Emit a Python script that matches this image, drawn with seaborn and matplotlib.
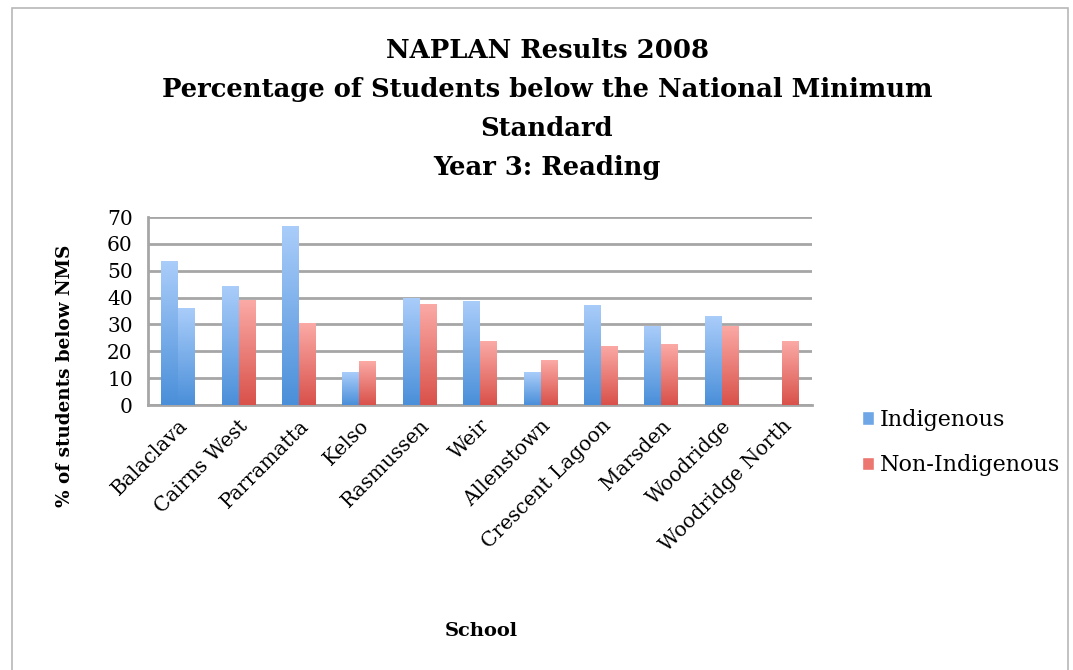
import matplotlib
matplotlib.use("Agg")
import matplotlib.pyplot as plt
import seaborn as sns
import pandas as pd
import numpy as np
from matplotlib.patches import Patch, Rectangle
from matplotlib.colors import LinearSegmentedColormap

schools = ["Balaclava", "Cairns West", "Parramatta", "Kelso", "Rasmussen", "Weir",
           "Allenstown", "Crescent Lagoon", "Marsden", "Woodridge", "Woodridge North"]
indigenous = [53.5, 44.3, 66.5, 12.2, 39.7, 38.8, 12.2, 37.3, 29.6, 33.0, np.nan]
non_indigenous = [36.1, 39.0, 30.4, 16.3, 37.5, 23.7, 16.6, 22.0, 22.6, 29.5, 23.7]
groups = ["Indigenous", "Non-Indigenous"]

df = pd.DataFrame({
    "school": schools * 2,
    "group": [groups[0]] * len(schools) + [groups[1]] * len(schools),
    "value": indigenous + non_indigenous,
})

sns.set_style("white")
plt.rcParams["font.family"] = ["DejaVu Serif"]
plt.rcParams["text.color"] = "black"
plt.rcParams["xtick.labelcolor"] = "black"
plt.rcParams["ytick.labelcolor"] = "black"

fig = plt.figure(figsize=(10.73, 6.70), dpi=100)
ax = fig.add_axes([0.138, 0.3955, 0.619, 0.2806])

blue_cmap = LinearSegmentedColormap.from_list("b", ["#4a8fd9", "#aacdfa"])
red_cmap = LinearSegmentedColormap.from_list("r", ["#d9514a", "#fbaaa6"])

sns.barplot(data=df, x="school", y="value", hue="group", order=schools,
            hue_order=groups, palette=["#7fb0ea", "#ef7f78"], width=0.56,
            gap=0, legend=False, ax=ax)

# gradient fill for each bar
grad = np.linspace(0, 1, 256).reshape(-1, 1)
for i, patch in enumerate(ax.patches):
    h = patch.get_height()
    if not np.isfinite(h) or h == 0:
        continue
    cmap = blue_cmap if i < len(schools) else red_cmap
    x0 = patch.get_x()
    w = patch.get_width()
    im = ax.imshow(grad, cmap=cmap, origin="lower", aspect="auto",
                   extent=[x0, x0 + w, 0, h], zorder=3)
    im.set_clip_path(patch)
    patch.set_facecolor("none")
    patch.set_edgecolor("none")

ax.set_xlim(-0.5, len(schools) - 0.5)
ax.set_ylim(0, 70)
ax.set_yticks(range(0, 71, 10))
ax.yaxis.grid(True, color="#a6a6a6", linewidth=2)
ax.set_axisbelow(True)
for s in ["top", "right"]:
    ax.spines[s].set_visible(False)
ax.spines["left"].set_color("#a6a6a6")
ax.spines["bottom"].set_color("#a6a6a6")
ax.spines["left"].set_linewidth(2)
ax.spines["bottom"].set_linewidth(2)

ax.set_xticks(np.arange(-0.5, len(schools), 1.0), minor=True)
ax.tick_params(axis="x", which="minor", length=7, width=1.5, color="#a6a6a6")
ax.tick_params(axis="x", which="major", length=0, pad=8)
ax.tick_params(axis="y", length=7, width=1.5, color="#a6a6a6", labelsize=14.5, pad=4)
ax.set_xticks(range(len(schools)))
ax.set_xticklabels(schools, rotation=45, ha="right", rotation_mode="anchor", fontsize=14.5)
ax.set_xlabel("")
ax.set_ylabel("")

fig.text(65 / 1073, 1 - 376 / 670, "% of students below NMS", rotation=90,
         ha="center", va="center", fontsize=13.2, fontweight="bold")
fig.text(481 / 1073, 1 - 631 / 670, "School", ha="center", va="center",
         fontsize=14, fontweight="bold")

title_lines = ["NAPLAN Results 2008",
               "Percentage of Students below the National Minimum",
               "Standard",
               "Year 3: Reading"]
for k, line in enumerate(title_lines):
    fig.text(547 / 1073, 1 - (50 + 39.3 * k) / 670, line, ha="center", va="center",
             fontsize=18.6, fontweight="bold")

handles = [Patch(facecolor="#6fa6e6"), Patch(facecolor="#ec7670")]
fig.legend(handles, groups, loc="upper left", bbox_to_anchor=(842 / 1073, 1 - 389 / 670),
           frameon=False, fontsize=16, handlelength=0.55, handleheight=0.55,
           handletextpad=0.25, labelspacing=1.05)

fig.patches.append(Rectangle((12 / 1073, -0.1), 1056 / 1073, 1.1 - 8 / 670,
                             transform=fig.transFigure, fill=False,
                             edgecolor="#b8b8b8", linewidth=1.2))

fig.savefig("out.png", dpi=100)
